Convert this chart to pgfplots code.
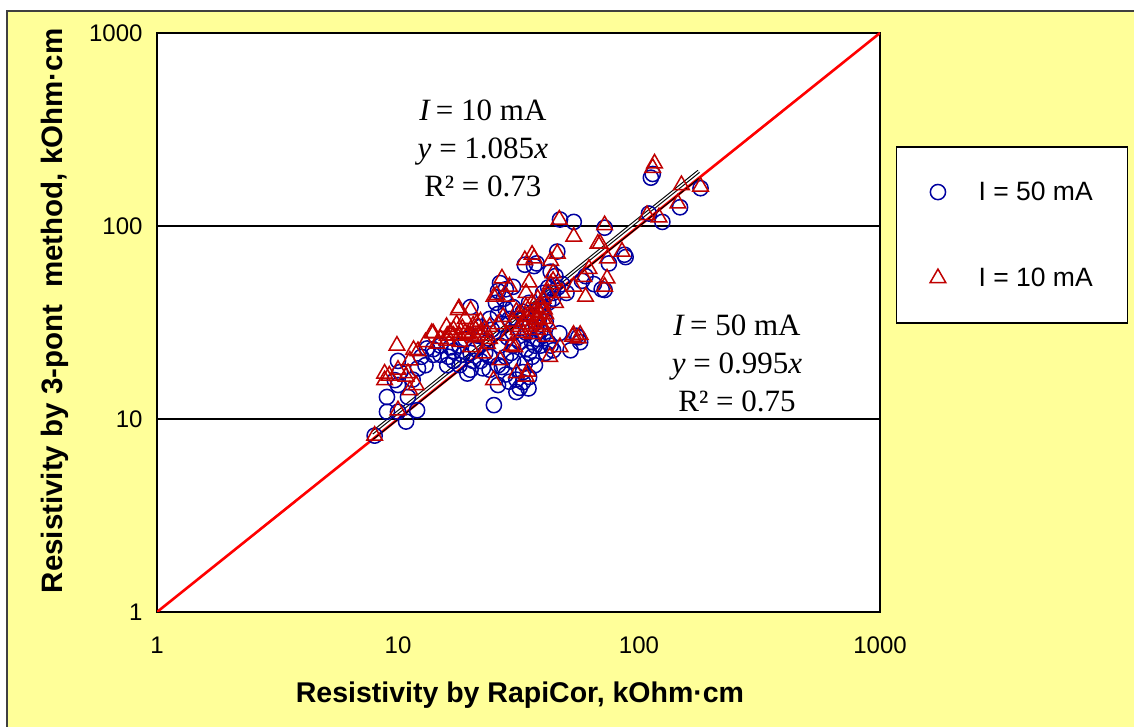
\documentclass[border=0pt]{standalone}
\usepackage{pgfplots}
\pgfplotsset{compat=1.18}
\usepackage{fontspec}
\setmainfont{Liberation Sans}
\newfontfamily\timesfont{Liberation Serif}
\definecolor{bgyellow}{RGB}{255,255,153}
\definecolor{framegray}{RGB}{64,64,64}
\definecolor{markblue}{RGB}{0,0,160}
\definecolor{markred}{RGB}{192,0,0}
\definecolor{linered}{RGB}{255,0,0}

\begin{document}
\begin{tikzpicture}
\useasboundingbox (0,0) rectangle (1134pt,727pt);
\fill[bgyellow, draw=framegray, line width=1.5pt] (7pt,-20pt) rectangle (1160pt,716pt);
\begin{axis}[
    at={(157pt,115pt)}, anchor=south west,
    scale only axis, width=723pt, height=579pt,
    xmode=log, ymode=log,
    xmin=1, xmax=1000, ymin=1, ymax=1000,
    xtick={1,10,100,1000}, xticklabels={1,10,100,1000},
    ytick={1,10,100,1000}, yticklabels={1,10,100,1000},
    tick style={draw=none},
    major tick length=0pt, minor tick length=0pt,
    ymajorgrids, grid style={black, line width=1.2pt},
    axis line style={line width=1.5pt},
    axis background/.style={fill=white},
    ticklabel style={font=\fontsize{24}{28}\selectfont},
    xticklabel style={yshift=-21pt},
    yticklabel style={xshift=-11pt},
    xlabel={Resistivity by RapiCor, kOhm·cm},
    ylabel={Resistivity by 3-pont\hspace{0.3em} method, kOhm·cm},
    xlabel style={font=\bfseries\fontsize{28.5}{32}\selectfont, at={(axis description cs:0.502,-0.1434)}, anchor=center},
    ylabel style={font=\bfseries\fontsize{29.5}{33}\selectfont, at={(axis description cs:-0.141,0.52)}, anchor=center},
    legend style={at={(axis description cs:1.1826,0.651)}, anchor=center,
        draw=black, line width=1.3pt, fill=white,
        font=\fontsize{26.5}{30}\selectfont,
        inner xsep=33pt, inner ysep=33pt, row sep=62pt,
        cells={anchor=west}},
    legend image code/.code={\path (-8pt,0pt) (38pt,0pt); \draw[#1] plot coordinates {(0pt,0pt)};},
]
% I = 50 mA
\addplot[only marks, mark=o, mark size=7.6pt, color=markblue, mark options={line width=1.5pt}] coordinates {
(8.0,8.2) (9.0,10.9) (9.0,13.0) (10.0,10.9) (10.8,9.7) (12.0,11.1) (9.7,15.9) (10.2,17.5)
(10.0,20.0) (11.5,16.0) (12.1,18.3) (12.5,21.0) (13.2,23.2) (14.0,21.5) (15.0,21.5) (16.2,21.0)
(16.5,23.5) (17.0,22.5) (18.0,24.0) (18.5,21.5) (19.0,26.0) (19.4,17.2) (20.0,18.0) (20.0,38.0)
(20.5,20.0) (21.0,23.0) (21.5,27.0) (22.5,18.3) (23.0,22.0) (23.5,25.0) (24.0,21.0) (24.5,29.0)
(25.0,11.8) (25.5,40.0) (26.0,15.0) (26.0,46.0) (26.5,24.0) (27.0,18.6) (27.5,42.0) (28.0,17.0)
(28.0,47.0) (28.5,26.5) (29.0,15.6) (29.5,22.0) (30.0,20.0) (30.0,28.0) (31.0,13.8) (31.0,33.0)
(32.0,14.5) (32.0,25.0) (33.0,17.5) (33.0,36.0) (33.6,19.4) (33.6,63.0) (34.0,28.0) (34.8,14.4)
(35.0,22.0) (35.0,40.0) (36.0,25.0) (36.7,62.0) (37.0,24.0) (37.5,30.0) (38.0,26.0) (38.5,33.0)
(39.0,28.5) (40.0,27.0) (40.0,45.0) (41.0,32.0) (42.0,25.0) (42.0,48.0) (43.0,58.0) (44.0,42.0)
(45.0,55.0) (45.8,73.7) (46.7,27.8) (47.0,108.0) (48.0,50.0) (50.0,45.0) (52.0,22.7) (53.6,105.0)
(55.0,27.0) (56.0,26.5) (57.0,25.0) (58.0,52.0) (60.0,55.0) (65.0,50.0) (70.0,47.0) (72.0,46.6)
(72.0,98.0) (75.0,64.0) (87.0,71.0) (88.0,69.0) (110.0,116.0) (112.0,178.0) (114.0,186.0)
(125.0,105.0) (148.0,125.0) (180.0,157.0)
(22.0,30.0) (24.0,33.0) (26.0,35.0) (28.0,37.0) (30.0,38.0) (27.0,31.0) (29.0,33.0) (35.0,30.0)
(36.0,34.0) (38.0,37.0) (40.0,38.0) (42.0,40.0) (44.0,45.0) (46.0,48.0) (39.0,24.0) (41.0,22.0)
(43.0,24.0) (36.0,21.0) (34.0,23.0) (30.0,24.0) (28.0,21.0) (26.0,19.0) (24.0,18.0) (22.0,20.0)
(31.0,16.0) (33.0,15.5) (35.0,16.5) (37.0,19.0) (14.0,23.0) (15.0,24.0) (17.0,20.0) (18.0,19.0)
(20.0,22.0) (16.0,19.0) (13.0,19.0) (11.0,13.0) (10.0,15.0) (30.0,48.4) (26.5,50.6) (37.6,64.0)
(44.0,22.7)
};
\addlegendentry{I = 50 mA}
% I = 10 mA
\addplot[only marks, mark=triangle, mark size=9pt, color=markred, mark options={line width=1.5pt}] coordinates {
(8.0,8.2) (8.8,17.2) (8.8,15.9) (9.2,16.8) (9.9,24.0) (10.0,18.0) (10.0,11.1) (10.8,16.6)
(11.0,17.3) (11.2,20.1) (11.2,14.1) (11.9,15.0) (11.6,22.8) (12.1,22.5) (13.0,25.0) (13.8,27.9)
(14.0,27.8) (14.5,24.6) (15.0,26.0) (15.9,30.0) (16.5,28.0) (16.0,25.5) (17.0,27.0) (17.5,31.0)
(17.9,37.5) (17.8,36.7) (18.1,25.1) (18.5,29.5) (19.0,33.0) (19.5,27.5) (20.0,36.7) (20.0,23.6)
(20.5,30.5) (21.2,31.2) (21.0,26.5) (22.0,28.0) (22.9,29.0) (22.6,21.9) (23.5,24.5) (24.0,26.0)
(24.9,15.9) (25.0,43.0) (25.7,44.0) (26.5,20.2) (26.0,31.0) (27.0,53.5) (27.3,33.8) (28.2,43.0)
(28.5,27.0) (29.0,48.5) (29.5,24.0) (30.5,23.6) (31.0,17.3) (31.5,29.0) (32.0,35.0) (33.0,31.0)
(33.6,66.5) (34.0,16.6) (34.5,17.6) (34.0,33.8) (34.0,45.0) (35.0,51.0) (35.5,30.0) (36.0,27.5)
(36.7,68.0) (37.6,32.5) (38.0,29.0) (38.5,35.5) (39.0,31.0) (40.0,30.0) (40.5,37.0) (41.5,26.7)
(42.6,21.0) (43.0,50.0) (44.0,57.0) (45.0,40.0) (45.8,72.0) (46.7,108.0) (47.0,23.6) (48.0,45.0)
(53.0,26.7) (53.6,88.0) (53.6,48.5) (53.5,27.3) (56.0,26.2) (57.0,27.3) (59.0,54.5) (60.0,43.0)
(62.0,60.0) (69.0,81.0) (72.0,101.0) (72.0,48.5) (73.7,53.5) (85.0,73.7) (108.0,114.0)
(114.0,200.0) (116.0,211.0) (121.0,111.0) (145.0,131.0) (150.0,163.0) (180.0,160.0)
(30.0,32.0) (31.0,36.0) (32.0,30.0) (33.0,28.0) (34.0,38.0) (35.0,34.0) (36.0,31.0) (37.0,36.0)
(38.0,33.0) (39.0,38.0) (40.0,33.0) (41.0,35.0) (42.0,31.0) (36.0,40.0) (38.0,42.0) (40.0,42.0)
(42.0,45.0) (44.0,52.0) (19.0,28.0) (20.0,27.0) (21.0,29.0) (22.0,32.0) (23.0,27.0) (24.0,30.0)
(18.0,27.0) (17.0,29.0) (16.0,27.0) (36.0,71.0) (43.0,66.0) (74.0,68.0) (67.5,81.0)
};
\addlegendentry{I = 10 mA}
% 1:1 line and trend lines
\addplot[linered, line width=2.6pt, forget plot] coordinates {(1,1) (1000,1000)};
\addplot[black, line width=1.1pt, forget plot] coordinates {(7.8,7.76) (177,176.1)};
\addplot[draw=black, double=white, double distance=1.4pt, line width=1.1pt, forget plot] coordinates {(7.8,8.46) (177,192.0)};
\node[align=center, font=\timesfont\fontsize{31}{38}\selectfont] at (axis cs:22.5,253.6)
    {\textit{I}\,= 10 mA\\\textit{y} = 1.085\textit{x}\\R² = 0.73};
\node[align=center, font=\timesfont\fontsize{31}{38}\selectfont] at (axis cs:255,19.3)
    {\textit{I}\,= 50 mA\\\textit{y} = 0.995\textit{x}\\R² = 0.75};
\end{axis}
\end{tikzpicture}
\end{document}
